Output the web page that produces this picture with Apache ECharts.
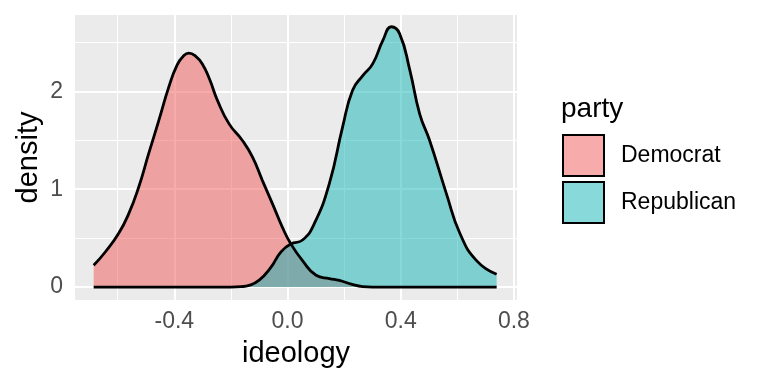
<!DOCTYPE html>
<html>
<head>
<meta charset="utf-8">
<script src="https://cdn.jsdelivr.net/npm/echarts@6/dist/echarts.min.js"></script>
<style>html,body{margin:0;padding:0;background:#fff}#c{width:768px;height:384px}</style>
</head>
<body>
<div id="c"></div>
<script>
var seriesNames = ['Democrat', 'Republican'];
var demX = [-0.685,-0.644,-0.597,-0.561,-0.526,-0.491,-0.455,-0.420,-0.390,-0.368,-0.349,-0.325,-0.301,-0.275,-0.248,-0.207,-0.160,-0.124,-0.089,-0.053,-0.018,0.012,0.053,0.101,0.148,0.183,0.225,0.266,0.30,0.739];
var demY = [0.222,0.358,0.546,0.75,1.02,1.36,1.70,2.04,2.27,2.36,2.39,2.36,2.28,2.12,1.91,1.67,1.50,1.33,1.09,0.85,0.61,0.44,0.27,0.12,0.086,0.068,0.03,0.004,0,0];
var repX = [-0.685,-0.20,-0.165,-0.136,-0.100,-0.059,-0.023,0.012,0.053,0.095,0.148,0.195,0.230,0.266,0.301,0.337,0.367,0.396,0.432,0.467,0.502,0.562,0.609,0.668,0.739];
var repY = [0,0,0.004,0.017,0.07,0.20,0.36,0.44,0.48,0.65,1.06,1.64,2.01,2.16,2.28,2.52,2.66,2.59,2.22,1.77,1.50,0.95,0.55,0.27,0.13];
var xTicks = [-0.4, 0.0, 0.4, 0.8];
var xMinor = [-0.6, -0.2, 0.2, 0.6];
var yTicks = [0, 1, 2];
var yMinor = [0.5, 1.5, 2.5];
var fills = ['rgba(239,88,85,0.5)', 'rgba(17,179,181,0.5)'];

function zip(xs, ys){ return xs.map(function(x,i){ return [x, ys[i]]; }); }
var font = 'Liberation Sans, Arial, Helvetica, sans-serif';

var chart = echarts.init(document.getElementById('c'), null, {renderer:'canvas'});
var gridLines = [];
xTicks.forEach(function(v){ gridLines.push({xAxis: v, lineStyle:{width:2}}); });
xMinor.forEach(function(v){ gridLines.push({xAxis: v, lineStyle:{width:1}}); });
yTicks.forEach(function(v){ gridLines.push({yAxis: v, lineStyle:{width:2}}); });
yMinor.forEach(function(v){ gridLines.push({yAxis: v, lineStyle:{width:1}}); });

chart.setOption({
  animation: false,
  backgroundColor: '#fff',
  title: {
    text: 'party', left: 556, top: 90,
    textStyle: {fontFamily: font, fontSize: 28, fontWeight: 'normal', color: '#000'}
  },
  legend: {
    orient: 'vertical', left: 557, top: 129,
    itemWidth: 41, itemHeight: 41, itemGap: 4, icon: 'rect',
    data: seriesNames.map(function(n, i){
      return {name: n, itemStyle: {color: fills[i], borderColor: '#000', borderWidth: 2}};
    }),
    textStyle: {fontFamily: font, fontSize: 23, color: '#000', padding: [0,0,0,12]},
    selectedMode: false
  },
  grid: {left: 75, right: 251, top: 15, bottom: 84, show: true, backgroundColor: '#EBEBEB', borderWidth: 0},
  xAxis: {
    type: 'value', min: -0.751, max: 0.811,
    name: 'ideology', nameLocation: 'middle', nameGap: 39,
    nameTextStyle: {fontFamily: font, fontSize: 29, color: '#000'},
    axisLine: {show: false},
    splitLine: {show: false},
    axisTick: {show: true, length: 6, customValues: xTicks, lineStyle: {color: '#333', width: 2}},
    axisLabel: {customValues: xTicks, margin: 10, fontFamily: font, fontSize: 23, color: '#4D4D4D',
      formatter: function(v){ return v.toFixed(1); }}
  },
  yAxis: {
    type: 'value', min: -0.1325, max: 2.78,
    name: 'density', nameLocation: 'middle', nameGap: 46, nameRotate: 90, nameMoveOverlap: false,
    nameTextStyle: {fontFamily: font, fontSize: 29, color: '#000', verticalAlign: 'middle'},
    axisLine: {show: false},
    splitLine: {show: false},
    axisTick: {show: true, length: 6, customValues: yTicks, lineStyle: {color: '#333', width: 2}},
    axisLabel: {customValues: yTicks, margin: 12, fontFamily: font, fontSize: 23, color: '#4D4D4D',
      formatter: function(v){ return String(Math.round(v)); }}
  },
  series: [
    {
      type: 'line', name: '_grid', data: [], z: 1, silent: true,
      markLine: {silent: true, symbol: 'none', z: 1, label: {show: false},
        lineStyle: {color: '#fff', type: 'solid'}, emphasis: {disabled: true}, data: gridLines}
    },
    {
      type: 'line', name: seriesNames[0], data: zip(demX, demY), smooth: 0.5,
      showSymbol: false, z: 3, silent: true,
      itemStyle: {color: fills[0]},
      lineStyle: {color: '#000', width: 2.8},
      areaStyle: {color: fills[0], origin: 0, opacity: 1}
    },
    {
      type: 'line', name: seriesNames[1], data: zip(repX, repY), smooth: 0.5,
      showSymbol: false, z: 3, silent: true,
      itemStyle: {color: fills[1]},
      lineStyle: {color: '#000', width: 2.8},
      areaStyle: {color: fills[1], origin: 0, opacity: 1}
    }
  ]
});
</script>
</body>
</html>
